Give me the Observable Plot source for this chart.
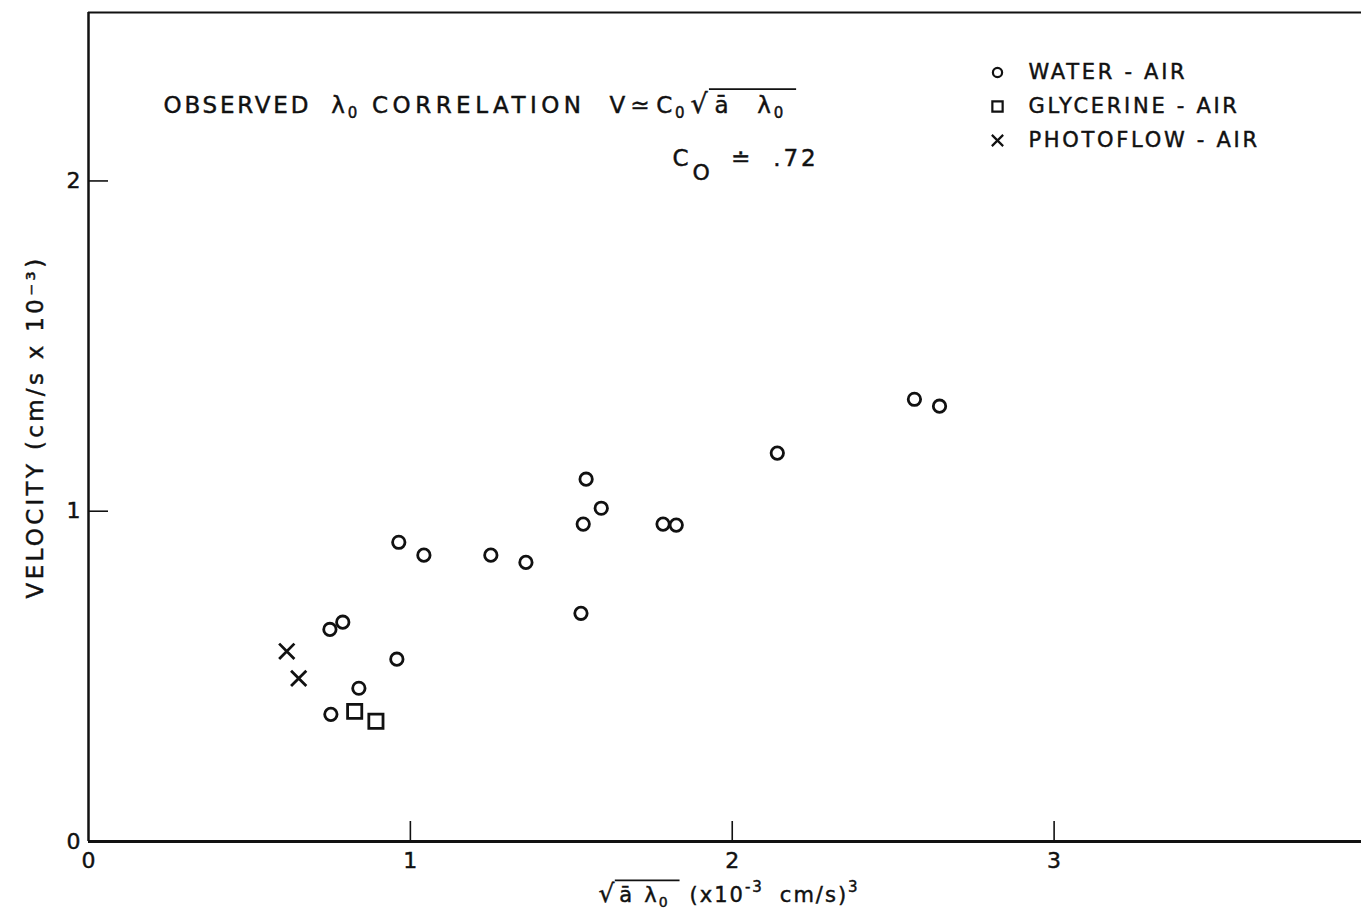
<!DOCTYPE html>
<html>
<head>
<meta charset="utf-8">
<script src="https://cdn.jsdelivr.net/npm/d3@7"></script>
<script src="https://cdn.jsdelivr.net/npm/@observablehq/plot@0.6"></script>
<style>
  html, body { margin: 0; padding: 0; background: #fff; }
  #chart svg { display: block; }
</style>
</head>
<body>
<div id="chart"></div>
<script>
// ---- data ----
const waterX = [0.753, 0.750, 0.790, 0.840, 0.958, 0.964, 1.042, 1.250, 1.359, 1.530, 1.537, 1.546, 1.593, 1.785, 1.826, 2.140, 2.566, 2.644];
const waterY = [0.385, 0.642, 0.664, 0.464, 0.552, 0.906, 0.867, 0.867, 0.845, 0.691, 0.961, 1.097, 1.009, 0.961, 0.958, 1.176, 1.339, 1.318];
const glycerineX = [0.827, 0.893];
const glycerineY = [0.394, 0.364];
const photoflowX = [0.616, 0.653];
const photoflowY = [0.576, 0.494];
const seriesNames = ["WATER - AIR", "GLYCERINE - AIR", "PHOTOFLOW - AIR"];
const seriesSymbols = ["circle", "square", "times"];
const xTickValues = [0, 1, 2, 3];
const yTickValues = [0, 1, 2];
const xDomain = [0, 3.955];
const yDomain = [0, 2.51];
// text pieces (rebuilt below with sub/superscripts)
const titlePieces = ["OBSERVED", "λ", "0", "CORRELATION", "V", "≃", "C", "0", "√", "ā", "λ", "0"];
const coefPieces = ["C", "O", "≐", ".72"];
const xLabelPieces = ["√", "ā", "λ", "0", "(x10", "-3", "cm/s)", "3"];
const yLabel = "VELOCITY (cm/s x 10⁻³)";

// ---- layout ----
const W = 1361, H = 924, mL = 88, mT = 12, mR = 0, mB = 83;
const fw = W - mL - mR, fh = H - mT - mB;
const font = "'DejaVu Sans', sans-serif";
const ink = "#111";

// formatting for each text piece: gap before (px), baseline shift, size, spacing, radical / overline flags
const titleLayout = [
  {}, {gap: 20}, {shift: 5, size: 15}, {gap: 12, ls: 4.5}, {gap: 24},
  {gap: 2}, {gap: 4}, {shift: 5, size: 15}, {gap: 3, radical: true, size: 27},
  {gap: 4, over: true}, {gap: 26, over: true}, {shift: 5, size: 15, over: true}
];
const coefLayout = [{}, {shift: 14, size: 22, gap: 1}, {gap: 18}, {gap: 20}];
const xLabelLayout = [
  {radical: true, size: 25}, {gap: 3, over: true}, {gap: 10, over: true}, {shift: 5, size: 14, over: true},
  {gap: 20}, {shift: -10, size: 15}, {gap: 16}, {shift: -10, size: 15}
];

const series = [
  {name: seriesNames[0], symbol: seriesSymbols[0], xs: waterX, ys: waterY, r: 6.2, lr: 4.6},
  {name: seriesNames[1], symbol: seriesSymbols[1], xs: glycerineX, ys: glycerineY, r: 8, lr: 5.8},
  {name: seriesNames[2], symbol: seriesSymbols[2], xs: photoflowX, ys: photoflowY, r: 7, lr: 5.2}
].map(s => ({...s, rows: s.xs.map((x, i) => ({x, y: s.ys[i]}))}));

const titleText = titlePieces.join(" ");
const coefText = coefPieces.join(" ");
const xLabelText = xLabelPieces.join(" ");

const svg = Plot.plot({
  width: W, height: H,
  marginLeft: mL, marginTop: mT, marginRight: mR, marginBottom: mB,
  x: {domain: xDomain},
  y: {domain: yDomain},
  style: {fontFamily: font, background: "#fff", color: ink, overflow: "visible"},
  marks: [
    Plot.ruleY([yDomain[1]], {stroke: ink, strokeWidth: 2}),
    Plot.ruleX([xDomain[0]], {stroke: ink, strokeWidth: 2.5}),
    Plot.ruleY([yDomain[0]], {stroke: ink, strokeWidth: 3}),
    Plot.ruleX(xTickValues.filter(d => d > 0), {stroke: ink, strokeWidth: 1.6, insetTop: fh - 20}),
    Plot.ruleY(yTickValues.filter(d => d > 0), {stroke: ink, strokeWidth: 1.6, insetRight: fw - 20}),
    Plot.axisX({ticks: xTickValues, tickFormat: d3.format("d"), tickSize: 0, tickPadding: 11, fontSize: 22, label: null, fontFamily: font}),
    Plot.axisY({ticks: yTickValues, tickFormat: d3.format("d"), tickSize: 0, tickPadding: 8, fontSize: 22, label: null, fontFamily: font}),
    ...series.map(s => Plot.dot(s.rows, {x: "x", y: "y", symbol: s.symbol, r: s.r, stroke: ink, strokeWidth: 2.8, fill: "none"})),
    ...series.map((s, i) => Plot.dot([s.name], {frameAnchor: "top-left", dx: 909, dy: 60 + i * 34, symbol: s.symbol, r: s.lr, stroke: ink, strokeWidth: 2.2, fill: "none"})),
    ...series.map((s, i) => Plot.text([s.name], {text: d => d, frameAnchor: "top-left", dx: 940, dy: 60 + i * 34, textAnchor: "start", lineAnchor: "middle", fontSize: 21, fontFamily: font, fill: ink})),
    Plot.text([titleText], {text: d => d, frameAnchor: "top-left", dx: 75, dy: 93, textAnchor: "start", lineAnchor: "middle", fontSize: 23, fontFamily: font, fill: ink}),
    Plot.text([coefText], {text: d => d, frameAnchor: "top-left", dx: 584, dy: 146, textAnchor: "start", lineAnchor: "middle", fontSize: 23, fontFamily: font, fill: ink}),
    Plot.text([xLabelText], {text: d => d, frameAnchor: "bottom", dx: 4, dy: 54, textAnchor: "middle", lineAnchor: "middle", fontSize: 21, fontFamily: font, fill: ink}),
    Plot.text([yLabel], {text: d => d, frameAnchor: "left", dx: -53, rotate: -90, textAnchor: "middle", lineAnchor: "middle", fontSize: 23, fontFamily: font, fill: ink})
  ]
});

document.getElementById("chart").appendChild(svg);

// ---- rich text: subscripts, superscripts and the radical's overline ----
const root = d3.select(svg);
function findText(str) {
  return root.selectAll("text").filter(function() { return this.textContent === str; });
}
function buildRich(str, pieces, layout, spacing) {
  findText(str).each(function() {
    const t = d3.select(this);
    t.text(null).attr("xml:space", "preserve").style("white-space", "pre").style("letter-spacing", spacing + "px");
    let shift = 0, idx = 0, radicalIdx = -1, overEnd = -1;
    pieces.forEach((p, i) => {
      const L = layout[i] || {};
      const target = L.shift || 0;
      const sp = t.append("tspan").text(p);
      if (target !== shift) sp.attr("dy", target - shift);
      shift = target;
      if (L.gap) sp.attr("dx", L.gap);
      if (L.size) sp.style("font-size", L.size + "px");
      if (L.ls != null) sp.style("letter-spacing", L.ls + "px");
      if (L.radical) radicalIdx = idx;
      if (L.over) overEnd = idx + p.length - 1;
      idx += p.length;
    });
    if (radicalIdx >= 0 && overEnd >= 0) {
      const a = this.getExtentOfChar(radicalIdx);
      const b = this.getExtentOfChar(overEnd);
      const y0 = a.y + 1.2;
      d3.select(this.parentNode).append("path")
        .attr("transform", this.getAttribute("transform"))
        .attr("d", `M${a.x + a.width - 1.5},${y0}H${b.x + b.width + 10}`)
        .attr("stroke", ink).attr("stroke-width", 1.8).attr("fill", "none");
    }
  });
}
buildRich(titleText, titlePieces, titleLayout, 2.8);
buildRich(coefText, coefPieces, coefLayout, 3);
buildRich(xLabelText, xLabelPieces, xLabelLayout, 2);
for (const name of seriesNames) findText(name).attr("xml:space", "preserve").style("white-space", "pre").style("letter-spacing", "2.7px");
findText(yLabel).style("letter-spacing", "3.3px");
// heavier, lettering-like strokes
root.selectAll("text").attr("stroke", ink).attr("stroke-width", 0.45).attr("paint-order", "fill");
</script>
</body>
</html>
